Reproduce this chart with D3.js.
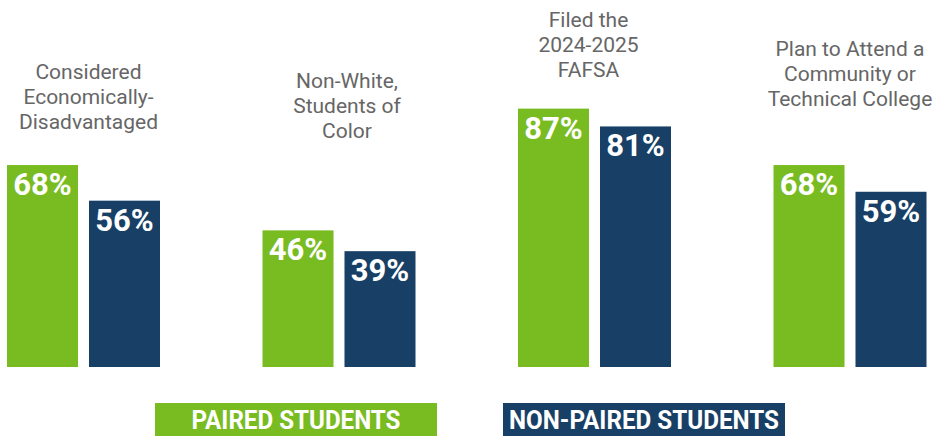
<!DOCTYPE html>
<html>
  <head>
    <meta charset="utf-8">
    <style>
      body { margin: 0; background: #fff; }
      svg { display: block; }
    </style>
  </head>
  <body>
    <script src="https://d3js.org/d3.v7.min.js"></script>
    <script>
      // chart data
      const categories = ['econ', 'color', 'fafsa', 'college'];
      const titles = [
        ['Considered', 'Economically-', 'Disadvantaged'],
        ['Non-White,', 'Students of', 'Color'],
        ['Filed the', '2024-2025', 'FAFSA'],
        ['Plan to Attend a', 'Community or', 'Technical College']
      ];
      const paired = [68, 46, 87, 68];
      const nonPaired = [56, 39, 81, 59];
      const seriesNames = ['PAIRED STUDENTS', 'NON-PAIRED STUDENTS'];

      // layout only
      const titleTop = [79, 87.5, 27, 56];   // baseline of first title line
      const titleDx = [5, 8, -6, 0];

      const width = 933, height = 436;
      const colors = ['#79bc21', '#183f66'];

      const svg = d3.select('body').append('svg')
        .attr('width', width)
        .attr('height', height);

      const x0 = d3.scaleBand()
        .domain(categories)
        .range([7, 7 + 4 * 255.5])
        .padding(0);

      const x1 = d3.scaleBand()
        .domain([0, 1])
        .range([0, 153])
        .paddingInner(0.134);

      const y = d3.scaleLinear()
        .domain([0, 100])
        .range([367, 70]);

      const rows = categories.map((c, i) => ({ key: c, i, values: [paired[i], nonPaired[i]] }));

      const groups = svg.append('g')
        .selectAll('g')
        .data(rows)
        .join('g')
        .attr('transform', d => `translate(${x0(d.key)},0)`);

      groups.selectAll('rect')
        .data(d => d.values.map((v, j) => ({ v, j })))
        .join('rect')
        .attr('x', d => x1(d.j))
        .attr('y', d => y(d.v))
        .attr('width', x1.bandwidth())
        .attr('height', d => y(0) - y(d.v))
        .attr('fill', d => colors[d.j]);

      groups.selectAll('text.val')
        .data(d => d.values.map((v, j) => ({ v, j })))
        .join('text')
        .attr('class', 'val')
        .attr('x', d => x1(d.j) + x1.bandwidth() / 2)
        .attr('y', d => y(d.v) + 30)
        .attr('text-anchor', 'middle')
        .attr('font-family', 'Roboto, sans-serif')
        .attr('font-weight', 700)
        .attr('font-size', 31)
        .attr('fill', '#fff')
        .text(d => d.v + '%');

      // category titles
      groups.append('text')
        .attr('text-anchor', 'middle')
        .attr('font-family', 'Roboto, sans-serif')
        .attr('font-size', 21)
        .attr('fill', '#666')
        .selectAll('tspan')
        .data(d => titles[d.i].map(t => ({ t, i: d.i })))
        .join('tspan')
        .attr('x', d => 76.5 + titleDx[d.i])
        .attr('y', (d, k) => titleTop[d.i] + k * 25)
        .text(d => d.t);

      // legend
      const legendBoxes = [
        { x: 155, w: 282, tw: 209 },
        { x: 503, w: 282, tw: 270 }
      ];
      const legend = svg.append('g')
        .selectAll('g')
        .data(seriesNames)
        .join('g')
        .attr('transform', (d, i) => `translate(${legendBoxes[i].x},403)`);

      legend.append('rect')
        .attr('width', (d, i) => legendBoxes[i].w)
        .attr('height', 33)
        .attr('fill', (d, i) => colors[i]);

      legend.append('text')
        .attr('x', (d, i) => legendBoxes[i].w / 2)
        .attr('y', 25.5)
        .attr('text-anchor', 'middle')
        .attr('font-family', 'Roboto, sans-serif')
        .attr('font-weight', 700)
        .attr('font-size', 25)
        .attr('fill', '#fff')
        .attr('textLength', (d, i) => legendBoxes[i].tw)
        .attr('lengthAdjust', 'spacingAndGlyphs')
        .text(d => d);
    </script>
  </body>
</html>
